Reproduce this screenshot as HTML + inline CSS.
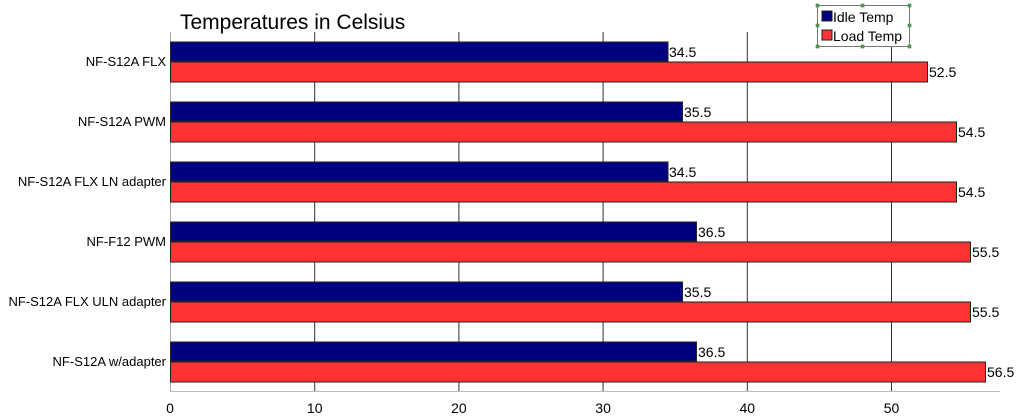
<!DOCTYPE html>
<html><head><style>body{margin:0;background:#fff}svg{display:block}</style></head><body>
<svg width="1024" height="418" xmlns="http://www.w3.org/2000/svg" font-family="Liberation Sans, sans-serif">
<rect width="1024" height="418" fill="#fff"/>
<text x="180" y="29" font-size="21" fill="#000">Temperatures in Celsius</text>
<g stroke="#333" stroke-width="1">
<line x1="314.7" y1="32" x2="314.7" y2="391"/>
<line x1="458.9" y1="32" x2="458.9" y2="391"/>
<line x1="603.1" y1="32" x2="603.1" y2="391"/>
<line x1="747.3" y1="32" x2="747.3" y2="391"/>
<line x1="891.5" y1="32" x2="891.5" y2="391"/>
</g>
<line x1="170.5" y1="32" x2="170.5" y2="392" stroke="#aaa"/>
<line x1="170" y1="391.5" x2="1000" y2="391.5" stroke="#bbb"/>
<g font-size="13" fill="#000" text-anchor="end">
<text x="166" y="66">NF-S12A FLX</text>
<text x="166" y="126">NF-S12A PWM</text>
<text x="166" y="186">NF-S12A FLX LN adapter</text>
<text x="166" y="246">NF-F12 PWM</text>
<text x="166" y="306">NF-S12A FLX ULN adapter</text>
<text x="166" y="366">NF-S12A w/adapter</text>
</g>
<g stroke="#222" stroke-width="1">
<rect x="170.5" y="42" width="497.5" height="19" fill="#000080"/>
<rect x="170.5" y="62" width="757" height="20" fill="#ff3333"/>
<rect x="170.5" y="102" width="512" height="19" fill="#000080"/>
<rect x="170.5" y="122" width="786" height="20" fill="#ff3333"/>
<rect x="170.5" y="162" width="497.5" height="19" fill="#000080"/>
<rect x="170.5" y="182" width="786" height="20" fill="#ff3333"/>
<rect x="170.5" y="222" width="526" height="19" fill="#000080"/>
<rect x="170.5" y="242" width="800" height="20" fill="#ff3333"/>
<rect x="170.5" y="282" width="512" height="19" fill="#000080"/>
<rect x="170.5" y="302" width="800" height="20" fill="#ff3333"/>
<rect x="170.5" y="342" width="526" height="19" fill="#000080"/>
<rect x="170.5" y="362" width="815" height="20" fill="#ff3333"/>
</g>
<g font-size="14" fill="#000">
<text x="669" y="57">34.5</text><text x="929" y="77">52.5</text>
<text x="684" y="117">35.5</text><text x="958" y="137">54.5</text>
<text x="669" y="177">34.5</text><text x="958" y="197">54.5</text>
<text x="698" y="237">36.5</text><text x="972" y="257">55.5</text>
<text x="684" y="297">35.5</text><text x="972" y="317">55.5</text>
<text x="698" y="357">36.5</text><text x="987" y="377">56.5</text>
</g>
<g font-size="14" fill="#000" text-anchor="middle">
<text x="170" y="413">0</text><text x="314.7" y="413">10</text><text x="458.9" y="413">20</text>
<text x="603.1" y="413">30</text><text x="747.3" y="413">40</text><text x="891.5" y="413">50</text>
</g>
<rect x="817.5" y="5.5" width="92" height="41" fill="#fff" stroke="#777"/>
<rect x="822" y="11" width="10" height="10" fill="#000080" stroke="#222"/>
<rect x="822" y="30" width="10" height="10" fill="#ff3333" stroke="#222"/>
<g font-size="14" fill="#000"><text x="833" y="22">Idle Temp</text><text x="833" y="41">Load Temp</text></g>
<g fill="#5a5" stroke="#363" stroke-width="0.5">
<rect x="816" y="4" width="3" height="3"/><rect x="861" y="4" width="3" height="3"/><rect x="908" y="4" width="3" height="3"/>
<rect x="816" y="24" width="3" height="3"/><rect x="908" y="24" width="3" height="3"/>
<rect x="816" y="45" width="3" height="3"/><rect x="861" y="45" width="3" height="3"/><rect x="908" y="45" width="3" height="3"/>
</g>
</svg>
</body></html>
